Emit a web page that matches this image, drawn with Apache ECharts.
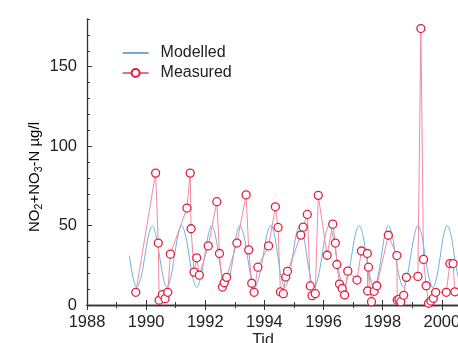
<!DOCTYPE html>
<html>
<head>
<meta charset="utf-8">
<script src="https://cdn.jsdelivr.net/npm/echarts@6/dist/echarts.min.js"></script>
<style>
  html,body{margin:0;padding:0;background:#fff}
  #chart{width:458px;height:343px}
</style>
</head>
<body>
<div id="chart"></div>
<script>
// 模拟值:按图上读取(年份, µg/l)
const modelYears = [1989.43,1989.56,1989.68,1989.82,1989.95,1990.08,1990.21,1990.33,1990.46,1990.58,
  1990.70,1990.83,1990.95,1991.08,1991.20,1991.33,1991.46,1991.58,1991.71,1991.84,
  1991.97,1992.10,1992.22,1992.34,1992.46,1992.58,1992.70,1992.82,1992.94,1993.05,
  1993.17,1993.30,1993.43,1993.55,1993.67,1993.81,1993.95,1994.08,1994.22,1994.34,
  1994.46,1994.57,1994.69,1994.82,1994.95,1995.07,1995.20,1995.32,1995.44,1995.56,
  1995.68,1995.81,1995.94,1996.06,1996.19,1996.31,1996.44,1996.56,1996.68,1996.81,
  1996.94,1997.07,1997.20,1997.33,1997.45,1997.58,1997.71,1997.83,1997.95,1998.07,
  1998.19,1998.32,1998.44,1998.57,1998.70,1998.82,1998.94,1999.07,1999.19,1999.32,
  1999.44,1999.57,1999.70,1999.82,1999.94,2000.06,2000.18,2000.31,2000.43,2000.56,
  2000.68,2000.80]
const modelValues = [31,17,11,17,30,44,50,44,30,17,
  11,17,30,44,50,44,30,17,11,17,
  30,44,50,44,30,17,11,17,30,44,
  50,44,30,17,11,17,30,44,50,44,
  30,17,11,17,30,44,50,44,30,17,
  11,17,30,44,50,44,30,17,11,17,
  30,44,50,44,30,17,11,17,30,44,
  50,44,30,17,11,17,30,44,50,44,
  30,17,11,17,30,44,50,44,30,17,
  11,17]

// 实测值
const measYears = [1989.65,1990.32,1990.41,1990.44,1990.55,1990.64,1990.73,1990.82,
  1991.38,1991.49,1991.52,1991.62,1991.71,1991.80,1992.10,1992.39,1992.48,1992.58,1992.64,1992.72,
  1993.07,1993.38,1993.47,1993.57,1993.65,1993.78,1994.14,1994.37,1994.46,1994.54,1994.64,1994.72,1994.78,
  1995.23,1995.31,1995.45,1995.55,1995.61,1995.72,1995.82,1996.12,1996.31,1996.40,1996.45,1996.54,1996.63,1996.71,1996.82,
  1997.13,1997.28,1997.48,1997.49,1997.52,1997.62,1997.71,1997.80,1998.19,1998.48,1998.49,1998.55,1998.61,1998.71,1998.80,
  1999.19,1999.29,1999.38,1999.47,1999.55,1999.63,1999.71,1999.79,2000.15,2000.27,2000.38,2000.44]
const measValues = [8,83,39,3,6.5,4,8,32,
  61,83,48,20.7,29.7,18.8,37.2,65,32.4,11.3,14,17.4,
  39,69.3,34.7,13.7,8,23.8,37.2,61.8,48.8,8.2,7.1,17.6,21.2,
  44,49,57,12,5.9,7.1,69,31.3,50.9,39,25.5,13.2,10.4,6.3,21.3,
  15.7,34,32.4,8.8,23.8,2.1,8.6,12.1,43.9,31.1,3.1,3.6,2.1,6.1,17.4,
  18,174,28.7,12.1,1.1,2.5,4.2,8,8,26.1,26.1,8.3]

const yMajor = [0,50,100,150]
const FONT = '"Liberation Sans", Arial, sans-serif'
const TXT = '#222'
const AXC = '#333'

const chart = echarts.init(document.getElementById('chart'))

const xBase = {
  type:'value', min:1988, max:2002, interval:2,
  axisLine:{show:true, lineStyle:{color:AXC, width:1.3}},
  axisTick:{show:true, inside:true, length:5, lineStyle:{color:AXC}},
  minorTick:{show:true, splitNumber:2, length:3, lineStyle:{color:AXC}},
  splitLine:{show:false}, minorSplitLine:{show:false}
}
const yBase = {
  type:'value', min:0, max:180, interval:10,
  axisLine:{show:true, lineStyle:{color:AXC, width:1.3}},
  splitLine:{show:false}
}

chart.setOption({
  animation:false,
  backgroundColor:'#fff',
  grid:{left:87, top:19, bottom:38, right:-43, containLabel:false, outerBoundsMode:'none'},
  legend:{
    orient:'vertical', left:117, top:40, itemWidth:26, itemHeight:10, itemGap:4,
    textStyle:{fontFamily:FONT, fontSize:16, color:TXT, padding:[0,0,0,7]},
    data:[
      {name:'Modelled', lineStyle:{color:'#1f6db3', width:1.2}, itemStyle:{color:'rgba(0,0,0,0)', borderWidth:0, opacity:0}},
      {name:'Measured', lineStyle:{color:'#d0143a', width:1.2}}
    ]
  },
  xAxis:[
    Object.assign({}, xBase, {position:'bottom',
      axisLabel:{show:true, margin:9, fontFamily:FONT, fontSize:16.5, color:TXT, formatter:v=>String(v)}}),
    Object.assign({}, xBase, {position:'top', axisLabel:{show:false}})
  ],
  yAxis:[
    Object.assign({}, yBase, {
      axisTick:{show:true, inside:true, length:3, lineStyle:{color:AXC}},
      axisLabel:{show:true, margin:10, fontFamily:FONT, fontSize:16.5, color:TXT,
        formatter:v=>yMajor.includes(v)?String(v):''}}),
    Object.assign({}, yBase, {position:'left', axisLine:{show:false},
      axisTick:{show:true, inside:true, length:5, customValues:yMajor, lineStyle:{color:AXC}},
      axisLabel:{show:false}})
  ],
  series:[
    {
      name:'Modelled', type:'line', symbol:'none', smooth:0.35,
      data:modelYears.map((t,i)=>[t, modelValues[i]]),
      lineStyle:{color:'#6fb0df', width:1}, itemStyle:{color:'#6fb0df'}
    },
    {
      name:'Measured', type:'line', symbol:'circle', symbolSize:8, showSymbol:true,
      data:measYears.map((t,i)=>[t, measValues[i]]),
      lineStyle:{color:'#f28a9e', width:1},
      itemStyle:{color:'#fff', borderColor:'#e0203f', borderWidth:1.3}
    }
  ],
  graphic:[
    {type:'text', x:35, y:177, rotation:Math.PI/2,
      style:{text:'{n|NO}{s|2}{n|+NO}{s|3}{n|-N µg/l}', align:'center', verticalAlign:'middle',
        rich:{
          n:{fontFamily:FONT, fontSize:15, color:TXT, lineHeight:20, verticalAlign:'middle'},
          s:{fontFamily:FONT, fontSize:10.5, color:TXT, lineHeight:20, verticalAlign:'bottom'}
        }}},
    {type:'text', x:263, y:333, style:{text:'Tid', align:'center', verticalAlign:'top',
      fontFamily:FONT, fontSize:16, fill:TXT}}
  ]
})
</script>
</body>
</html>
